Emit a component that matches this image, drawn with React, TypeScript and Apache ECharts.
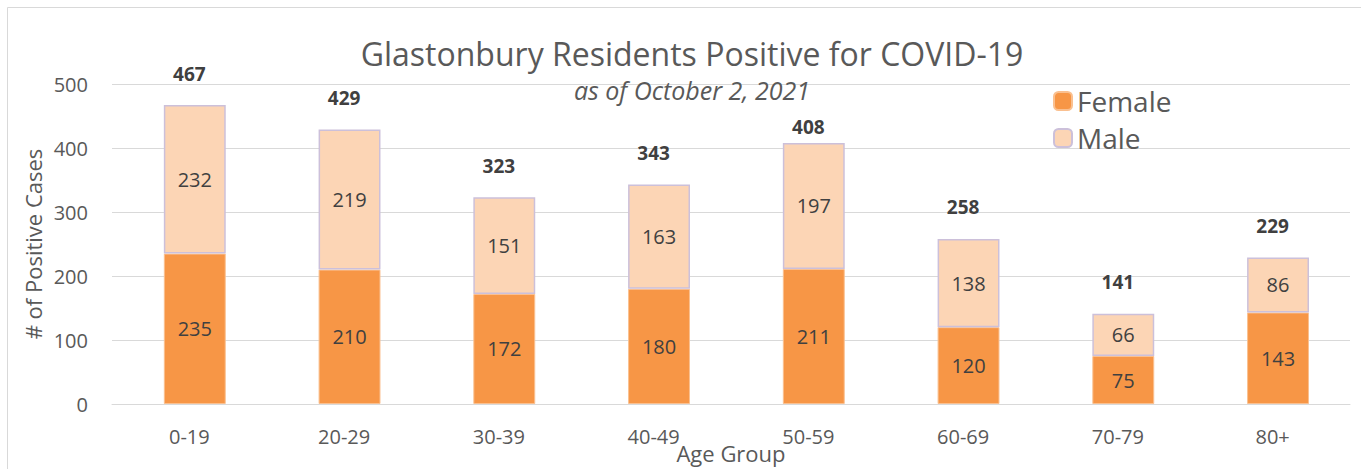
import React, { useEffect, useRef } from "react";
import * as echarts from "echarts";

const categories = ["0-19", "20-29", "30-39", "40-49", "50-59", "60-69", "70-79", "80+"];
const female = [235, 210, 172, 180, 211, 120, 75, 143];
const male = [232, 219, 151, 163, 197, 138, 66, 86];
const totals = [467, 429, 323, 343, 408, 258, 141, 229];

const FONT = "'Open Sans', sans-serif";
const TXT = "#595959";

export default function App() {
  const ref = useRef<HTMLDivElement>(null);
  useEffect(() => {
    if (!ref.current) return;
    const chart = echarts.init(ref.current, null, { renderer: "svg" });
    const totalData = totals.map((v, i) =>
      i === 4 ? { value: v, label: { distance: 6 } } : v
    );
    chart.setOption({
      animation: false,
      textStyle: { fontFamily: FONT },
      graphic: [
        {
          type: "rect",
          shape: { x: 7.5, y: 7.5, width: 1400, height: 500 },
          style: { fill: "none", stroke: "#d9d9d9", lineWidth: 1 },
          silent: true,
        },
      ],
      title: {
        text: "Glastonbury Residents Positive for COVID-19",
        subtext: "as of October 2, 2021",
        left: 687,
        textAlign: "center",
        top: 32,
        itemGap: 8,
        textStyle: { fontFamily: FONT, fontSize: 32, fontWeight: "normal", color: TXT },
        subtextStyle: { fontFamily: FONT, fontSize: 25, fontStyle: "italic", color: TXT },
      },
      legend: {
        data: ["Female", "Male"],
        orient: "vertical",
        left: 1048,
        top: 82,
        itemWidth: 18,
        itemHeight: 18,
        itemGap: 9,
        textStyle: { fontFamily: FONT, fontSize: 28, color: TXT },
      },
      grid: { left: 112, right: 11, top: 84, bottom: 65, outerBoundsMode: "none", containLabel: false },
      xAxis: {
        type: "category",
        data: categories,
        name: "Age Group",
        nameLocation: "middle",
        nameGap: 38,
        nameMoveOverlap: false,
        nameTextStyle: { fontFamily: FONT, fontSize: 22, color: TXT },
        axisLine: { lineStyle: { color: "#d9d9d9", width: 1 } },
        axisTick: { show: false },
        axisLabel: { fontFamily: FONT, fontSize: 20, color: TXT, margin: 22 },
      },
      yAxis: {
        type: "value",
        min: 0,
        max: 500,
        interval: 100,
        name: "# of Positive Cases",
        nameLocation: "middle",
        nameGap: 68,
        nameMoveOverlap: false,
        nameTextStyle: { fontFamily: FONT, fontSize: 22, color: TXT },
        axisLine: { show: false },
        axisTick: { show: false },
        axisLabel: { fontFamily: FONT, fontSize: 20, color: TXT, margin: 24 },
        splitLine: { lineStyle: { color: "#d9d9d9", width: 1 } },
      },
      series: [
        {
          name: "Female",
          type: "bar",
          stack: "total",
          data: female,
          barWidth: "40%",
          itemStyle: { color: "#f79646", borderColor: "#fac090", borderWidth: 1 },
          label: { show: true, position: "inside", fontFamily: FONT, fontSize: 20, color: "#404040" },
        },
        {
          name: "Male",
          type: "bar",
          stack: "total",
          data: male,
          itemStyle: { color: "#fcd5b5", borderColor: "#ccc0da", borderWidth: 1.5 },
          label: { show: true, position: "inside", fontFamily: FONT, fontSize: 20, color: "#404040" },
        },
        {
          name: "Total",
          type: "bar",
          data: totalData,
          barGap: "-100%",
          z: 1,
          itemStyle: { color: "rgba(0,0,0,0)" },
          label: {
            show: true,
            position: "top",
            distance: 22,
            fontFamily: FONT,
            fontSize: 19,
            fontWeight: "bold",
            color: "#404040",
          },
        },
      ],
    });
    return () => chart.dispose();
  }, []);
  return (
    <div
      ref={ref}
      style={{ position: "absolute", left: 0, top: 0, width: 1361, height: 469, background: "#fff" }}
    />
  );
}
